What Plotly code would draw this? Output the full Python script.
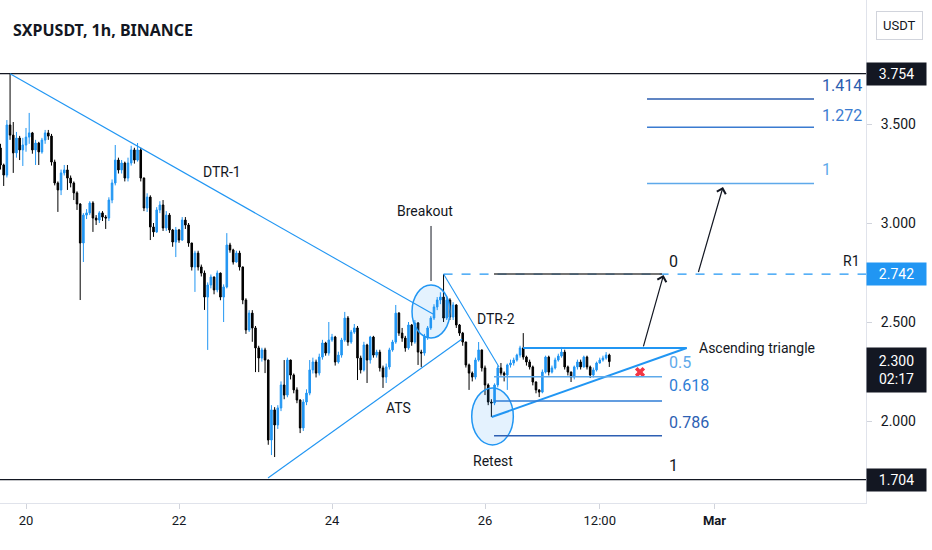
import plotly.graph_objects as go
import pandas as pd

# ---------------- data ----------------
title_text = "SXPUSDT, 1h, BINANCE"
start_time = "2021-02-19 16:00"
first_open = 3.379

closes = [
    3.293, 3.242, 3.495, 3.444, 3.354, 3.429, 3.369, 3.394, 3.434, 3.455,
    3.369, 3.404, 3.359, 3.419, 3.455, 3.439, 3.308, 3.202, 3.167, 3.253,
    3.268, 3.227, 3.202, 3.152, 3.096, 2.899, 3.040, 3.051, 3.101, 3.025,
    3.015, 3.051, 3.030, 3.025, 3.116, 3.202, 3.318, 3.268, 3.303, 3.227,
    3.303, 3.369, 3.318, 3.369, 3.227, 3.076, 3.131, 2.980, 2.955, 3.066,
    3.091, 2.975, 3.040, 2.965, 2.904, 2.965, 2.914, 3.015, 2.990, 2.899,
    2.778, 2.848, 2.778, 2.747, 2.626, 2.687, 2.727, 2.662, 2.747, 2.626,
    2.677, 2.889, 2.864, 2.803, 2.848, 2.778, 2.611, 2.460, 2.545, 2.470,
    2.369, 2.318, 2.359, 2.308, 1.904, 2.056, 1.980, 2.066, 2.182, 2.131,
    2.308, 2.232, 2.157, 2.106, 1.965, 2.096, 2.141, 2.258, 2.298, 2.242,
    2.323, 2.394, 2.343, 2.409, 2.424, 2.298, 2.333, 2.409, 2.520, 2.399,
    2.449, 2.470, 2.318, 2.258, 2.384, 2.308, 2.424, 2.333, 2.348, 2.268,
    2.222, 2.273, 2.359, 2.399, 2.545, 2.444, 2.419, 2.369, 2.485, 2.399,
    2.495, 2.348, 2.343, 2.424, 2.470, 2.520, 2.576, 2.611, 2.626, 2.520,
    2.611, 2.525, 2.586, 2.485, 2.444, 2.399, 2.283, 2.242, 2.222, 2.308,
    2.359, 2.268, 2.182, 2.096, 2.091, 2.182, 2.268, 2.242, 2.232, 2.283,
    2.293, 2.308, 2.333, 2.369, 2.323, 2.298, 2.273, 2.197, 2.157, 2.146,
    2.247, 2.323, 2.247, 2.268, 2.308, 2.328, 2.348, 2.273, 2.247, 2.222,
    2.273, 2.298, 2.273, 2.323, 2.273, 2.232, 2.258, 2.293, 2.308, 2.318,
    2.333, 2.300,
]
highs = [
    3.40, 3.30, 3.52, 3.754, 3.51, 3.46, 3.44, 3.43, 3.48, 3.556,
    3.46, 3.42, 3.41, 3.43, 3.47, 3.47, 3.45, 3.32, 3.21, 3.27,
    3.293, 3.293, 3.24, 3.21, 3.16, 3.10, 3.05, 3.07, 3.11, 3.11,
    3.04, 3.06, 3.06, 3.04, 3.13, 3.22, 3.394, 3.33, 3.318, 3.31,
    3.33, 3.39, 3.38, 3.404, 3.38, 3.23, 3.15, 3.14, 3.00, 3.08,
    3.11, 3.116, 3.06, 3.05, 2.97, 2.98, 2.97, 3.03, 3.03, 3.00,
    2.90, 2.86, 2.86, 2.79, 2.76, 2.70, 2.74, 2.73, 2.76, 2.75,
    2.69, 2.949, 2.90, 2.87, 2.86, 2.86, 2.78, 2.62, 2.56, 2.56,
    2.48, 2.38, 2.37, 2.37, 2.31, 2.08, 2.07, 2.08, 2.20, 2.308,
    2.32, 2.31, 2.24, 2.17, 2.11, 2.11, 2.16, 2.308, 2.32, 2.31,
    2.34, 2.41, 2.40, 2.50, 2.44, 2.43, 2.35, 2.42, 2.551, 2.53,
    2.46, 2.49, 2.48, 2.33, 2.40, 2.39, 2.43, 2.43, 2.36, 2.36,
    2.28, 2.29, 2.37, 2.41, 2.586, 2.55, 2.47, 2.43, 2.50, 2.49,
    2.51, 2.50, 2.36, 2.44, 2.48, 2.53, 2.59, 2.626, 2.65, 2.742,
    2.63, 2.62, 2.60, 2.59, 2.49, 2.45, 2.40, 2.29, 2.25, 2.32,
    2.399, 2.36, 2.28, 2.19, 2.11, 2.19, 2.28, 2.293, 2.25, 2.29,
    2.31, 2.32, 2.34, 2.38, 2.444, 2.33, 2.31, 2.28, 2.20, 2.16,
    2.26, 2.33, 2.33, 2.28, 2.32, 2.34, 2.374, 2.36, 2.28, 2.25,
    2.28, 2.31, 2.31, 2.33, 2.33, 2.28, 2.27, 2.30, 2.32, 2.33,
    2.348, 2.34,
]
lows = [
    3.27, 3.187, 3.23, 3.42, 3.253, 3.33, 3.318, 3.288, 3.36, 3.40,
    3.35, 3.293, 3.293, 3.35, 3.40, 3.42, 3.29, 3.19, 3.056, 3.141,
    3.24, 3.167, 3.18, 3.116, 3.066, 2.611, 2.803, 3.02, 3.04, 2.955,
    2.99, 3.00, 3.01, 2.97, 3.01, 3.10, 3.19, 3.25, 3.25, 3.21,
    3.21, 3.29, 3.30, 3.31, 3.21, 3.06, 3.056, 2.914, 2.93, 2.95,
    3.05, 2.96, 2.96, 2.95, 2.88, 2.828, 2.90, 2.91, 2.97, 2.88,
    2.76, 2.652, 2.76, 2.73, 2.561, 2.359, 2.67, 2.64, 2.65, 2.61,
    2.50, 2.67, 2.85, 2.79, 2.80, 2.76, 2.59, 2.44, 2.45, 2.40,
    2.247, 2.247, 2.30, 2.242, 1.88, 1.828, 1.818, 1.96, 2.05, 2.11,
    2.12, 2.21, 2.14, 2.09, 1.939, 1.95, 2.08, 2.13, 2.24, 2.22,
    2.23, 2.31, 2.33, 2.33, 2.40, 2.28, 2.29, 2.32, 2.40, 2.38,
    2.39, 2.44, 2.207, 2.24, 2.25, 2.192, 2.29, 2.32, 2.32, 2.25,
    2.167, 2.192, 2.26, 2.35, 2.39, 2.43, 2.40, 2.35, 2.36, 2.38,
    2.39, 2.283, 2.273, 2.33, 2.41, 2.46, 2.51, 2.56, 2.59, 2.50,
    2.51, 2.51, 2.51, 2.47, 2.43, 2.38, 2.27, 2.157, 2.20, 2.21,
    2.30, 2.25, 2.131, 2.08, 2.020, 2.08, 2.17, 2.23, 2.20, 2.157,
    2.27, 2.28, 2.30, 2.32, 2.31, 2.28, 2.26, 2.18, 2.14, 2.121,
    2.14, 2.24, 2.23, 2.24, 2.26, 2.30, 2.32, 2.26, 2.23, 2.197,
    2.21, 2.26, 2.26, 2.27, 2.26, 2.217, 2.22, 2.25, 2.29, 2.30,
    2.31, 2.273,
]

# axis ticks
x_tick_vals = ["2021-02-20", "2021-02-22", "2021-02-24", "2021-02-26",
               "2021-02-27 12:00", "2021-03-01"]
x_tick_text = ["20", "22", "24", "26", "12:00", "<b>Mar</b>"]
y_tick_vals = [2.0, 2.5, 3.0, 3.5]
y_tick_text = ["2.000", "2.500", "3.000", "3.500"]
x_view = ["2021-02-19 15:50:32", "2021-03-02 23:31:46"]
y_view = [1.5859, 4.1263]

# key levels
level_high = 3.754
level_low = 1.704
level_r1 = 2.742
last_price = 2.300
countdown = "02:17"

# trend lines (time, price)
dtr1 = [("2021-02-19 19:00", 3.754), ("2021-02-25 07:41", 2.540)]
ats = [("2021-02-23 03:55", 1.712), ("2021-02-25 16:47", 2.414)]
dtr2 = [("2021-02-25 11:00", 2.742), ("2021-02-26 04:24", 2.273)]
tri_top = [("2021-02-26 11:56", 2.369), ("2021-02-28 15:17", 2.369)]
tri_low = [("2021-02-26 02:07", 2.020), ("2021-02-28 15:17", 2.369)]
breakout_pointer = [("2021-02-25 07:04", 2.985), ("2021-02-25 07:04", 2.707)]

# ellipses: (t0, t1, p0, p1)
breakout_zone = ("2021-02-25 01:06", "2021-02-25 13:01", 2.419, 2.687)
retest_zone = ("2021-02-25 19:50", "2021-02-26 08:53", 1.879, 2.167)

# fib retracement
fib_span = ("2021-02-26 02:50", "2021-02-28 07:32")
fib_label_time = "2021-02-28 09:06"
fib_levels = ["0", "0.5", "0.618", "0.786", "1"]
fib_prices = [2.742, 2.223, 2.1005, 1.926, 1.704]
fib_label_prices = [2.808, 2.293, 2.177, 1.990, 1.773]
fib_colors = ["#131722", "#5ea9ea", "#2f7dd6", "#2d5fb3", "#131722"]

# fib extension targets
ext_span = ("2021-02-28 02:50", "2021-03-02 07:13")
ext_label_time = "2021-03-02 09:06"
ext_levels = ["1", "1.272", "1.414"]
ext_prices = [3.200, 3.483, 3.626]
ext_label_prices = [3.268, 3.545, 3.692]
ext_colors = ["#5ea9ea", "#3a7bd0", "#2b5caf"]

# arrows (tail -> head)
arrows = [
    (("2021-02-28 01:34", 2.369), ("2021-02-28 08:00", 2.737)),
    (("2021-02-28 18:49", 2.745), ("2021-03-01 02:40", 3.182)),
]
invalid_mark = ("2021-02-28 00:38", 2.247)

# text labels
labels = [
    ("DTR-1", "2021-02-22 13:29", 3.258, "center"),
    ("Breakout", "2021-02-25 05:11", 3.061, "center"),
    ("DTR-2", "2021-02-26 03:27", 2.515, "center"),
    ("ATS", "2021-02-24 20:43", 2.066, "center"),
    ("Retest", "2021-02-26 02:31", 1.798, "center"),
    ("Ascending triangle", "2021-02-28 18:30", 2.369, "left"),
]

# ---------------- figure ----------------
UP = "#2196f3"
DOWN = "#000000"
BLUE = "#2196f3"
INK = "#131722"

times = pd.date_range(start_time, periods=len(closes), freq="h")
opens = [first_open] + closes[:-1]

fig = go.Figure()
fig.add_trace(go.Candlestick(
    x=times, open=opens, high=highs, low=lows, close=closes,
    increasing=dict(line=dict(color=UP, width=1), fillcolor=UP),
    decreasing=dict(line=dict(color=DOWN, width=1), fillcolor=DOWN),
    whiskerwidth=0, hoverinfo="skip", showlegend=False,
))

shapes = []


def seg(p, color, width, dash="solid"):
    shapes.append(dict(type="line", xref="x", yref="y",
                       x0=p[0][0], y0=p[0][1], x1=p[1][0], y1=p[1][1],
                       line=dict(color=color, width=width, dash=dash)))


# horizontal price levels
for lv in (level_high, level_low):
    shapes.append(dict(type="line", xref="paper", yref="y", x0=0, x1=1,
                       y0=lv, y1=lv, line=dict(color=INK, width=1.2)))
# R1 dashed
seg([(dtr2[0][0], level_r1), (x_view[1], level_r1)], BLUE, 1.2, "dash")

seg(dtr1, BLUE, 1.1)
seg(ats, BLUE, 1.1)
seg(dtr2, BLUE, 1.1)
seg(tri_top, BLUE, 2)
seg(tri_low, BLUE, 2)
seg(breakout_pointer, INK, 1)

for z in (breakout_zone, retest_zone):
    shapes.append(dict(type="circle", xref="x", yref="y",
                       x0=z[0], x1=z[1], y0=z[2], y1=z[3],
                       line=dict(color=BLUE, width=1.5),
                       fillcolor="rgba(33,150,243,0.12)"))

for lvl, pr, col in zip(fib_levels, fib_prices, fib_colors):
    if lvl == "1":
        continue
    seg([(fib_span[0], pr), (fib_span[1], pr)],
        "#444444" if lvl == "0" else col, 1.5)
for pr, col in zip(ext_prices, ext_colors):
    seg([(ext_span[0], pr), (ext_span[1], pr)], col, 1.5)

annotations = []
for txt, t, p, anc in labels:
    annotations.append(dict(x=t, y=p, xref="x", yref="y", text=txt,
                            showarrow=False, xanchor=anc, yanchor="middle",
                            font=dict(size=14, color=INK)))
for lvl, pr, col in zip(fib_levels, fib_label_prices, fib_colors):
    annotations.append(dict(x=fib_label_time, y=pr, xref="x", yref="y",
                            text=lvl, showarrow=False, xanchor="left",
                            yanchor="middle", font=dict(size=16, color=col)))
for lvl, pr, col in zip(ext_levels, ext_label_prices, ext_colors):
    annotations.append(dict(x=ext_label_time, y=pr, xref="x", yref="y",
                            text=lvl, showarrow=False, xanchor="left",
                            yanchor="middle", font=dict(size=16, color=col)))
annotations.append(dict(x=862 / 866, y=2.808, xref="paper", yref="y",
                        text="R1", showarrow=False, xanchor="right",
                        yanchor="middle", font=dict(size=14, color=INK)))

for tail, head in arrows:
    annotations.append(dict(x=head[0], y=head[1], ax=tail[0], ay=tail[1],
                            xref="x", yref="y", axref="x", ayref="y",
                            text="", showarrow=True, arrowhead=4,
                            arrowsize=1.5, arrowwidth=1.2, arrowcolor=INK))

# title
annotations.append(dict(x=11 / 866, y=1 - 30 / 503, xref="paper", yref="paper",
                        text="<b>" + title_text + "</b>", showarrow=False,
                        xanchor="left", yanchor="middle",
                        font=dict(size=16, color=INK, family="Noto Sans")))


# price-axis boxes
def price_box(price, text, bg, h=22, yanchor="middle", yshift=0):
    annotations.append(dict(x=1, y=price, xref="paper", yref="y", text=text,
                            showarrow=False, xanchor="left", yanchor=yanchor,
                            yshift=yshift, width=59, height=h, bgcolor=bg,
                            borderpad=0, align="center",
                            font=dict(size=14, color="white")))


price_box(level_high, f"{level_high:.3f}", INK)
price_box(level_r1, f"{level_r1:.3f}", BLUE)
price_box(last_price, f"{last_price:.3f}<br>{countdown}", INK, h=44,
          yanchor="top", yshift=15)
price_box(level_low, f"{level_low:.3f}", INK)

annotations.append(dict(x=899 / 866, y=1 - 26 / 503, xref="paper", yref="paper",
                        text="USDT", showarrow=False, xanchor="center",
                        yanchor="middle", bordercolor="#d1d4dc", borderwidth=1,
                        borderpad=6, font=dict(size=13, color=INK)))

fig.add_trace(go.Scatter(x=[invalid_mark[0]], y=[invalid_mark[1]], mode="markers",
                         marker=dict(symbol="x", size=9, color="#f23645",
                                     line=dict(width=0)),
                         hoverinfo="skip", showlegend=False))

fig.update_layout(
    width=932, height=550,
    margin=dict(l=0, r=66, t=0, b=47),
    paper_bgcolor="white", plot_bgcolor="white",
    font=dict(family="Roboto", color=INK, size=13),
    shapes=shapes, annotations=annotations,
    showlegend=False,
    xaxis=dict(type="date", range=x_view, tickvals=x_tick_vals,
               ticktext=x_tick_text, showgrid=False, zeroline=False,
               rangeslider=dict(visible=False), ticks="outside", ticklen=5,
               tickcolor="#d1d4dc", showline=True, linecolor="#e0e3eb",
               tickfont=dict(size=13, color=INK)),
    yaxis=dict(side="right", range=y_view, tickvals=y_tick_vals,
               ticktext=y_tick_text, showgrid=False, zeroline=False,
               ticks="outside", ticklen=5, tickcolor="#d1d4dc",
               ticklabelstandoff=6,
               showline=True, linecolor="#e0e3eb",
               tickfont=dict(size=14, color=INK)),
)

fig.write_html("out.html",
               config={"displayModeBar": False},
               post_script="document.body.style.margin='0';"
                           "document.body.style.padding='0';")
